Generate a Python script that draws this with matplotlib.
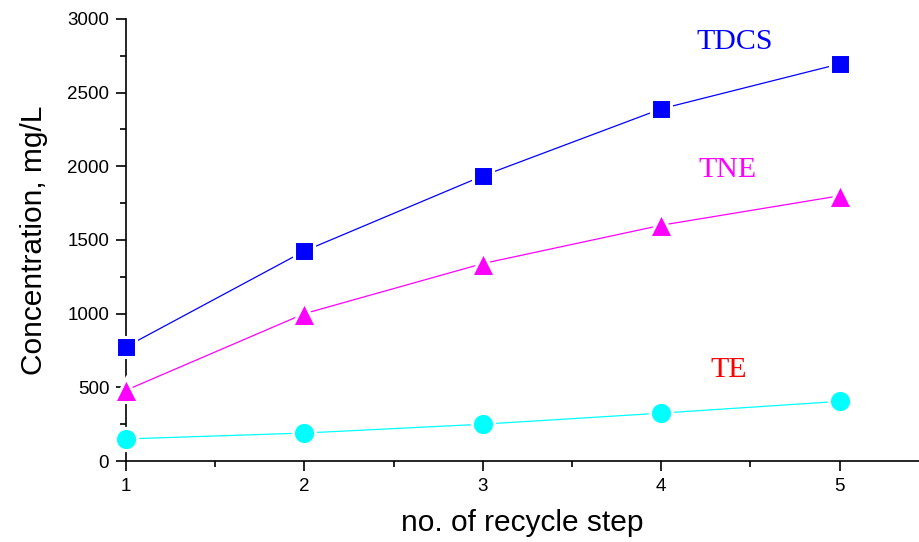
import matplotlib
matplotlib.use("Agg")
import matplotlib.pyplot as plt
from matplotlib.ticker import MultipleLocator

steps = [1, 2, 3, 4, 5]
tdcs = [775, 1425, 1935, 2390, 2695]
tne = [480, 1000, 1340, 1600, 1800]
te = [150, 190, 250, 325, 405]

fig = plt.figure(figsize=(9.19, 5.42), dpi=100)
ax = fig.add_axes([0.137, 0.1494, 0.863, 0.8156])

kw = dict(markeredgecolor='white', markeredgewidth=2.2, lw=0.9, clip_on=False, zorder=3)
ax.plot(steps, tdcs, color='#0000ff', marker='s', markersize=15, **kw)
ax.plot(steps, tne, color='#ff00ff', marker='^', markersize=17, **kw)
ax.plot(steps, te, color='#00ffff', marker='o', markersize=16, **kw)

serif = ['Liberation Serif', 'DejaVu Serif']
ax.text(4.41, 2844, 'TDCS', color='#0000ff', fontsize=21.5, family=serif, ha='center', va='center')
ax.text(4.37, 1975, 'TNE', color='#ff00ff', fontsize=21.5, family=serif, ha='center', va='center')
ax.text(4.38, 618, 'TE', color='#ff0000', fontsize=21.5, family=serif, ha='center', va='center')

ax.set_xlim(1, 5.445)
ax.set_ylim(0, 3000)
ax.xaxis.set_major_locator(MultipleLocator(1))
ax.xaxis.set_minor_locator(MultipleLocator(0.5))
ax.yaxis.set_major_locator(MultipleLocator(500))
ax.yaxis.set_minor_locator(MultipleLocator(250))

for s in ['top', 'right']:
    ax.spines[s].set_visible(False)
for s in ['left', 'bottom']:
    ax.spines[s].set_linewidth(1.2)

sans = ['Liberation Sans', 'DejaVu Sans']
ax.tick_params(which='major', direction='out', length=7, width=1.2, labelsize=13.5, pad=5)
ax.tick_params(which='minor', direction='out', length=4, width=1.2)
for lab in ax.get_xticklabels() + ax.get_yticklabels():
    lab.set_family(sans)

ax.set_xlabel('no. of recycle step', fontsize=21.5, family=sans, labelpad=10)
ax.set_ylabel('Concentration, mg/L', fontsize=21.5, family=sans, labelpad=14)

fig.savefig('out.png', dpi=100)
